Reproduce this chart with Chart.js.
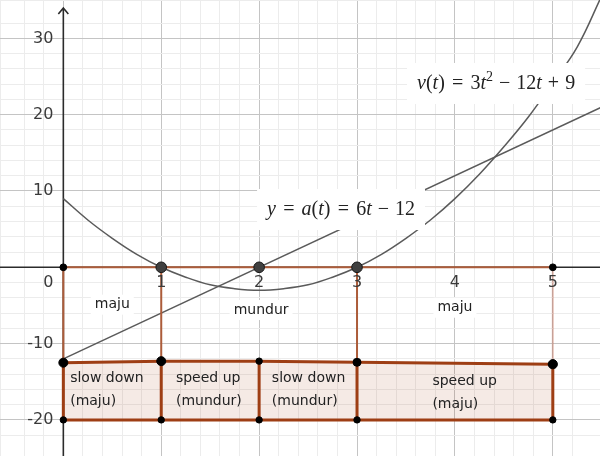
<!DOCTYPE html>
<html lang="id">
<head>
<meta charset="UTF-8">
<title>v(t) dan a(t)</title>
<script src="https://cdn.jsdelivr.net/npm/chart.js@4.4.1/dist/chart.umd.min.js"></script>
<style>
    html, body { margin: 0; padding: 0; background: #fff; }
    #wrap { position: relative; width: 600px; height: 456px; }
</style>
</head>
<body>
<div id="wrap"><canvas id="chart"></canvas></div>
<script>
    // velocity curve, every 0.25
    const tValues = [0, 0.25, 0.5, 0.75, 1, 1.25, 1.5, 1.75, 2, 2.25, 2.5, 2.75, 3,
                     3.25, 3.5, 3.75, 4, 4.25, 4.5, 4.75, 5, 5.25, 5.5];
    const vValues = [9, 6.2, 3.8, 1.7, 0, -1.3, -2.3, -2.8, -3, -2.8, -2.3, -1.3, 0,
                     1.7, 3.8, 6.2, 9, 12.2, 15.8, 19.7, 24.2, 28.9, 35.6];
    // acceleration line (end points)
    const aT = [0, 5.5];
    const aValues = [-12, 21];
    // sign strip under the axis
    const stripT = [0, 1, 2, 3, 5];
    const stripTop = [-12.5, -12.3, -12.3, -12.45, -12.7];
    const stripBottom = [-20, -20, -20, -20, -20];
    // marked points on the t axis
    const zeroT = [1, 2, 3];
    const axisEndT = [0, 5];
    // thin guides from the axis down to the strip
    const guideT = [0, 1, 3, 5];
    // tick labels
    const xTicks = [1, 2, 3, 4, 5];
    const yTicks = [-20, -10, 10, 20, 30];
    // texts
    const motionText = ['maju', 'mundur', 'maju'];
    const stripText = [['slow down', '(maju)'], ['speed up', '(mundur)'],
                       ['slow down', '(mundur)'], ['speed up', '(maju)']];

    // visible window
    const X_MIN = -0.647, X_MAX = 5.482;
    const Y_MIN = -24.73, Y_MAX = 35.03;

    const BROWN = 'rgb(158, 62, 20)';
    const BROWN_THIN = 'rgb(172, 92, 58)';
    const CURVE = '#5a5a5a';

    const pts = (xs, ys) => xs.map((x, i) => ({ x: x, y: ys[i] }));
    const topAt = t => stripTop[stripT.indexOf(t)];

    function lineSet(data, color, width) {
        return { data: data, showLine: true, borderColor: color, borderWidth: width,
                 pointRadius: 0, pointHoverRadius: 0, fill: false, tension: 0 };
    }
    function dotSet(data, radius, fillColor, edge) {
        return { data: data, showLine: false, pointRadius: radius, pointHoverRadius: radius,
                 pointBackgroundColor: fillColor, pointBorderColor: edge || fillColor, pointBorderWidth: 1 };
    }

    // first in list = drawn on top
    const datasets = [
        dotSet(pts(zeroT, zeroT.map(() => 0)), 5.3, '#404040', '#151515'),
        dotSet(pts(axisEndT, axisEndT.map(() => 0)), 3.4, '#000'),
        dotSet(pts(stripT, stripTop), [4.5, 4.5, 3.2, 4, 4.6], '#000'),
        dotSet(pts(stripT, stripBottom), 3.2, '#000'),
        ...stripT.map((t, i) => lineSet(pts([t, t], [stripTop[i], stripBottom[i]]), BROWN, 3)),
        lineSet(pts([stripT[0], stripT[stripT.length - 1]], [stripBottom[0], stripBottom[stripBottom.length - 1]]), BROWN, 3),
        Object.assign(lineSet(pts(stripT, stripTop), BROWN, 3),
                      { fill: { value: -20 }, backgroundColor: 'rgba(153, 51, 0, 0.1)' }),
        ...guideT.map(t => lineSet(pts([t, t], [0, topAt(t)]),
                                   t === 5 ? 'rgba(200, 120, 100, 0.45)' : BROWN_THIN, 2)),
        lineSet(pts(axisEndT, [0, 0]), BROWN_THIN, 2),
        Object.assign(lineSet(pts(tValues, vValues), CURVE, 1.5), { tension: 0.4 }),
        lineSet(pts(aT, aValues), CURVE, 1.5)
    ];

    function isMultiple(v, step) {
        return Math.abs(v / step - Math.round(v / step)) < 1e-6;
    }

    // formula pieces: [text, kind]  kind: i = italic, r = roman, s = superscript, g = gap (em)
    const vFormula = [['v', 'i'], ['(', 'r'], ['t', 'i'], [')', 'r'], [0.36, 'g'], ['=', 'r'], [0.36, 'g'],
                      ['3', 'r'], ['t', 'i'], ['2', 's'], [0.3, 'g'], ['\u2212', 'r'], [0.3, 'g'],
                      ['12', 'r'], ['t', 'i'], [0.3, 'g'], ['+', 'r'], [0.3, 'g'], ['9', 'r']];
    const aFormula = [['y', 'i'], [0.36, 'g'], ['=', 'r'], [0.36, 'g'], ['a', 'i'], ['(', 'r'], ['t', 'i'],
                      [')', 'r'], [0.36, 'g'], ['=', 'r'], [0.36, 'g'], ['6', 'r'], ['t', 'i'],
                      [0.3, 'g'], ['\u2212', 'r'], [0.3, 'g'], ['12', 'r']];

    function mathRun(ctx, parts, x, y, size, draw) {
        let cx = x;
        parts.forEach(([txt, kind]) => {
            if (kind === 'g') { cx += txt * size; return; }
            const fs = kind === 's' ? size * 0.7 : size;
            ctx.font = (kind === 'i' ? 'italic ' : '') + fs + 'px "Liberation Serif", serif';
            if (draw) ctx.fillText(txt, cx, kind === 's' ? y - size * 0.4 : y);
            cx += ctx.measureText(txt).width;
        });
        return cx - x;
    }

    function formulaLabel(ctx, parts, x, y, size) {
        const w = mathRun(ctx, parts, x, y, size, false);
        ctx.fillStyle = '#fff';
        ctx.fillRect(x - 10, y - 26, w + 20, 41);
        ctx.fillStyle = '#222';
        ctx.textAlign = 'left';
        ctx.textBaseline = 'alphabetic';
        mathRun(ctx, parts, x, y, size, true);
    }

    const sketch = {
        id: 'sketch',
        beforeDatasetsDraw(chart) {
            const ctx = chart.ctx, xs = chart.scales.x, ys = chart.scales.y;
            const x0 = xs.getPixelForValue(0), y0 = ys.getPixelForValue(0);
            ctx.save();
            ctx.strokeStyle = '#2b2b2b';
            ctx.lineWidth = 1.6;
            ctx.beginPath();
            ctx.moveTo(0, y0); ctx.lineTo(chart.width, y0);
            ctx.moveTo(x0, chart.height); ctx.lineTo(x0, 8);
            // arrow head
            ctx.moveTo(x0 - 5, 14); ctx.lineTo(x0, 8); ctx.lineTo(x0 + 5, 14);
            ctx.stroke();
            ctx.restore();
        },
        afterDatasetsDraw(chart) {
            const ctx = chart.ctx, xs = chart.scales.x, ys = chart.scales.y;
            const px = v => xs.getPixelForValue(v), py = v => ys.getPixelForValue(v);
            const x0 = px(0), y0 = py(0);
            ctx.save();

            // tick labels
            ctx.font = '16px "DejaVu Sans", sans-serif';
            ctx.fillStyle = '#3a3a3a';
            ctx.textAlign = 'center';
            ctx.textBaseline = 'middle';
            xTicks.forEach(v => ctx.fillText(String(v), px(v), y0 + 16));
            ctx.textAlign = 'right';
            yTicks.forEach(v => ctx.fillText(String(v), x0 - 10, py(v)));
            ctx.fillText('0', x0 - 10, y0 + 16);

            // maju / mundur with white backing
            ctx.font = '14px "DejaVu Sans", sans-serif';
            ctx.textAlign = 'center';
            const motionAt = [[0.5, -4.9], [2.02, -5.6], [4.0, -5.3]];
            motionText.forEach((txt, i) => {
                const cx = px(motionAt[i][0]), cy = py(motionAt[i][1]);
                const w = ctx.measureText(txt).width;
                ctx.fillStyle = '#fff';
                ctx.fillRect(cx - w / 2 - 4, cy - 10, w + 8, 20);
                ctx.fillStyle = '#222';
                ctx.fillText(txt, cx, cy);
            });

            // strip texts
            ctx.textAlign = 'left';
            const stripAt = [[0.07, -14.5], [1.15, -14.6], [2.13, -14.5], [3.77, -14.9]];
            stripText.forEach((lines, i) => {
                ctx.fillText(lines[0], px(stripAt[i][0]), py(stripAt[i][1]));
                ctx.fillText(lines[1], px(stripAt[i][0]), py(stripAt[i][1]) + 23);
            });

            // formulas
            formulaLabel(ctx, vFormula, px(3.613), py(23.37), 20);
            formulaLabel(ctx, aFormula, px(2.081), py(6.85), 20);
            ctx.restore();
        }
    };

    new Chart(document.getElementById('chart'), {
        type: 'scatter',
        data: { datasets: datasets },
        options: {
            responsive: true,
            maintainAspectRatio: false,
            animation: false,
            events: [],
            layout: { padding: 0, autoPadding: false },
            plugins: { legend: { display: false }, tooltip: { enabled: false } },
            scales: {
                x: {
                    type: 'linear', min: X_MIN, max: X_MAX,
                    ticks: { display: false, stepSize: 0.2 },
                    grid: {
                        drawTicks: false, lineWidth: 1,
                        color: c => isMultiple(c.tick.value, 1) ? '#c4c4c4' : '#ececec'
                    },
                    border: { display: false }
                },
                y: {
                    type: 'linear', min: Y_MIN, max: Y_MAX,
                    ticks: { display: false, stepSize: 2 },
                    grid: {
                        drawTicks: false, lineWidth: 1,
                        color: c => isMultiple(c.tick.value, 10) ? '#c4c4c4' : '#ececec'
                    },
                    border: { display: false }
                }
            }
        },
        plugins: [sketch]
    });
</script>
</body>
</html>
